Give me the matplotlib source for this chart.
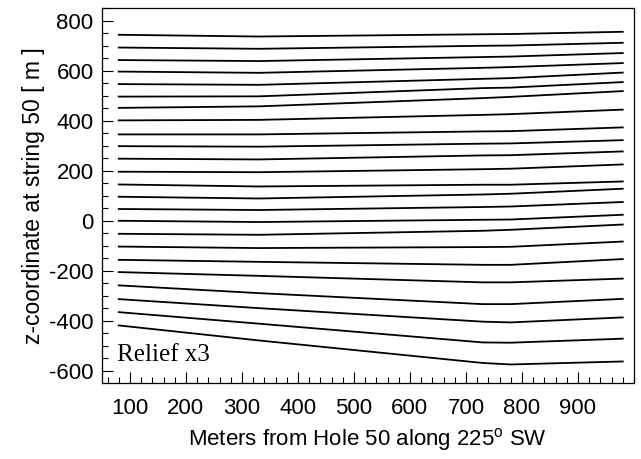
import matplotlib
matplotlib.use("Agg")
import matplotlib.pyplot as plt
from matplotlib.ticker import MultipleLocator

plt.rcParams['font.family'] = ['Liberation Sans', 'DejaVu Sans']
plt.rcParams['axes.unicode_minus'] = False

# distance along profile where each horizon was sampled
x_nodes = [80, 330, 730, 780, 980]

# z of each horizon at those distances (top to bottom)
z80 = [743, 692, 642, 596, 546, 496, 451, 401, 345, 298, 248, 196,
       145, 96, 47, 0, -52, -103, -156, -205, -258, -313, -365, -418]
z330 = [736, 687, 638, 591, 543, 497, 457, 403, 345, 296, 245, 194,
        137, 89, 43, -5, -56, -109, -164, -220, -289, -349, -411, -478]
z730 = [745, 699, 654, 611, 567, 530, 490, 423, 357, 308, 261, 206,
        144, 105, 55, 4, -40, -105, -176, -246, -333, -403, -486, -568]
z780 = [746, 700, 656, 614, 570, 532, 495, 426, 358, 309, 262, 208,
        144, 108, 57, 5, -36, -104, -176, -246, -333, -406, -487, -574]
z980 = [755, 711, 670, 630, 592, 554, 518, 444, 373, 322, 277, 225,
        157, 128, 75, 24, -15, -83, -153, -231, -312, -386, -471, -562]

fig = plt.figure(figsize=(6.41, 4.59), dpi=100)
ax = fig.add_axes([0.159, 0.1656, 0.83, 0.817])

for row in zip(z80, z330, z730, z780, z980):
    ax.plot(x_nodes, row, color='black', lw=1.3)

ax.set_xlim(50, 1000)
ax.set_ylim(-648, 850)

ax.set_xticks(range(100, 1000, 100))
ax.xaxis.set_minor_locator(MultipleLocator(20))
ax.yaxis.set_major_locator(MultipleLocator(200))
ax.yaxis.set_minor_locator(MultipleLocator(50))

ax.tick_params(which='both', direction='in', top=False, right=False,
               labelsize=16, width=0.8)
ax.tick_params(which='major', length=8)
ax.tick_params(which='minor', length=4)
ax.tick_params(axis='x', pad=11)
ax.tick_params(axis='y', pad=6)

for s in ax.spines.values():
    s.set_linewidth(0.9)

ax.set_xlabel(r'Meters from Hole 50 along 225$\mathregular{^o}$ SW', fontsize=16, labelpad=5)
ax.set_ylabel('z-coordinate at string 50 [ m ]', fontsize=16.5, labelpad=3)

ax.text(0.028, 0.075, 'Relief x3', transform=ax.transAxes,
        family='Liberation Serif', fontsize=18, va='center', ha='left')

fig.savefig('out.png', dpi=100)
